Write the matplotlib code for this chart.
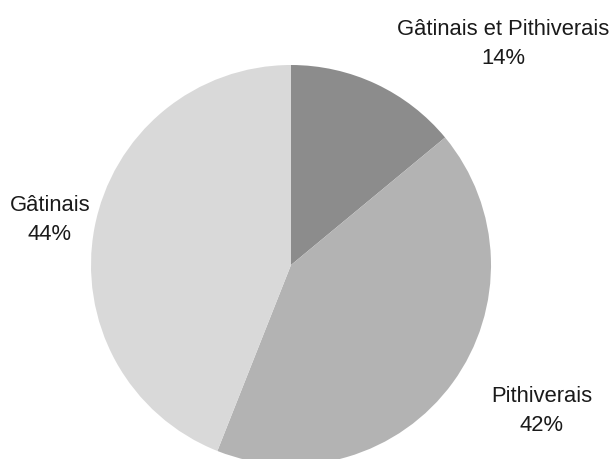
import matplotlib
matplotlib.use("Agg")
import matplotlib.pyplot as plt

# slice data, clockwise from 12 o'clock
categories = ["Gâtinais et Pithiverais", "Pithiverais", "Gâtinais"]
shares = [14, 42, 44]
colors = ["#8c8c8c", "#b3b3b3", "#d9d9d9"]

plt.rcParams['font.family'] = ['Liberation Sans', 'DejaVu Sans']

W, H = 613, 459
fig = plt.figure(figsize=(W / 100, H / 100), dpi=100)
ax = fig.add_axes([0, 0, 1, 1])

ax.pie(shares, colors=colors, startangle=90, counterclock=False,
       center=(291, H - 265), radius=200, frame=True,
       wedgeprops=dict(linewidth=0))
ax.set_xlim(0, W)
ax.set_ylim(0, H)
ax.set_aspect('equal')
ax.axis('off')

# label positions (pixel coords from the top-left)
label_pos = [(503, 44), (542, 411), (50, 220)]
for name, pct, (x, y) in zip(categories, shares, label_pos):
    ax.text(x, H - y, f"{name}\n{pct}%", ha='center', va='center',
            fontsize=15.8, linespacing=1.47, color='#1a1a1a')

fig.savefig("out.png", dpi=100)
